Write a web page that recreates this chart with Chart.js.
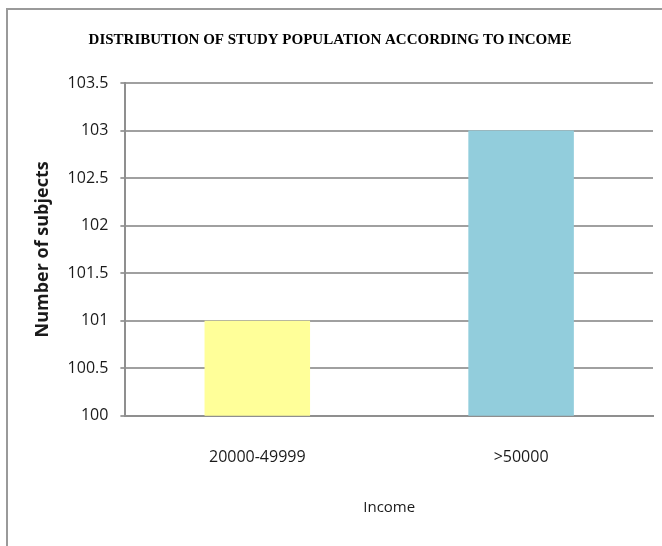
<!DOCTYPE html>
<html>
<head>
<meta charset="utf-8">
<title>Distribution of study population according to income</title>
<script src="https://cdn.jsdelivr.net/npm/chart.js@4/dist/chart.umd.min.js"></script>
<style>
  html, body { margin: 0; padding: 0; background: #ffffff; }
  #wrap { width: 662px; height: 546px; position: relative; }
</style>
</head>
<body>
<div id="wrap"><canvas id="chart" width="662" height="546"></canvas></div>
<script>
// Income groups and number of subjects in each
const categories = ['20000-49999', '>50000'];
const subjects = [101, 103];
const barColors = ['#FFFF99', '#92CDDC'];

// Value axis range and step
const yMin = 100;
const yMax = 103.5;
const yStep = 0.5;

const chartTitle = 'DISTRIBUTION OF STUDY POPULATION ACCORDING TO INCOME';
const xTitle = 'Income';
const yTitle = 'Number of subjects';

// Thin grey frame along the top and left edges of the chart
const framePlugin = {
  id: 'frame',
  beforeDraw(chart) {
    const ctx = chart.ctx;
    ctx.save();
    ctx.fillStyle = '#ffffff';
    ctx.fillRect(0, 0, chart.width, chart.height);
    ctx.strokeStyle = '#9a9a9a';
    ctx.lineWidth = 2;
    ctx.beginPath();
    ctx.moveTo(7, chart.height);
    ctx.lineTo(7, 9);
    ctx.lineTo(chart.width, 9);
    ctx.stroke();
    ctx.restore();
  }
};

new Chart(document.getElementById('chart'), {
  type: 'bar',
  data: {
    labels: categories,
    datasets: [{
      data: subjects,
      backgroundColor: barColors,
      borderWidth: 0,
      barPercentage: 0.4,
      categoryPercentage: 1.0
    }]
  },
  options: {
    responsive: false,
    animation: false,
    devicePixelRatio: 1,
    layout: { padding: { left: 7, right: 9, top: 9, bottom: 17 } },
    plugins: {
      legend: { display: false },
      tooltip: { enabled: false },
      title: {
        display: true,
        text: chartTitle,
        color: '#000000',
        font: { family: 'Liberation Serif', size: 15, weight: 'bold' },
        padding: { top: 22, bottom: 34 }
      }
    },
    scales: {
      x: {
        grid: { display: false, drawTicks: false, tickLength: 0 },
        border: { display: true, color: '#8f8f8f', width: 2 },
        ticks: {
          color: '#1a1a1a',
          padding: 32,
          font: { family: 'Open Sans', size: 16 }
        },
        title: {
          display: true,
          text: xTitle,
          color: '#1a1a1a',
          font: { family: 'Open Sans', size: 15 },
          padding: { top: 0, bottom: 12 }
        }
      },
      y: {
        min: yMin,
        max: yMax,
        ticks: {
          stepSize: yStep,
          color: '#1a1a1a',
          padding: 12,
          font: { family: 'Open Sans', size: 16 },
          callback: (value) => String(Number(value))
        },
        grid: { color: '#a0a0a0', lineWidth: 2, tickLength: 5, drawTicks: true },
        border: { display: true, color: '#8f8f8f', width: 2 },
        title: {
          display: true,
          text: yTitle,
          color: '#1a1a1a',
          font: { family: 'Open Sans', size: 18, weight: 'bold' },
          padding: { top: 25, bottom: 2 }
        }
      }
    }
  },
  plugins: [framePlugin]
});
</script>
</body>
</html>
